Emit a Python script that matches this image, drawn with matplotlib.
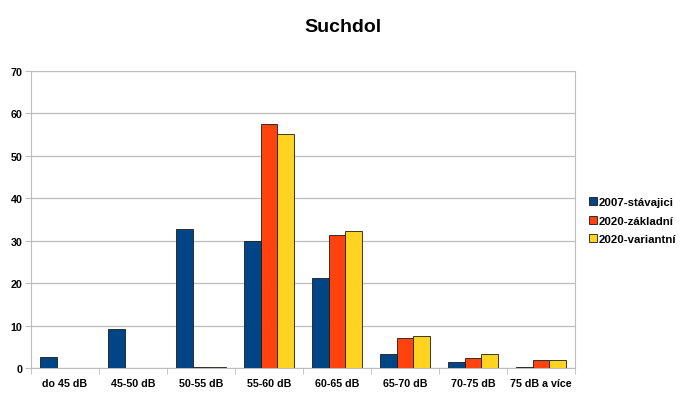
import matplotlib.pyplot as plt
import numpy as np

plt.rcParams['font.family'] = ['Liberation Sans', 'DejaVu Sans']

categories = ['do 45 dB', '45-50 dB', '50-55 dB', '55-60 dB', '60-65 dB',
              '65-70 dB', '70-75 dB', '75 dB a více']
s2007 = [2.6, 9.1, 32.7, 29.9, 21.1, 3.3, 1.5, 0.3]
s2020z = [0.0, 0.0, 0.3, 57.5, 31.3, 7.0, 2.4, 1.9]
s2020v = [0.0, 0.0, 0.2, 55.2, 32.4, 7.5, 3.3, 1.9]
names = ['2007-stávajici', '2020-základní', '2020-variantní']
colors = ['#004586', '#ff420e', '#ffd320']

fig = plt.figure(figsize=(6.82, 4.06), dpi=100)
ax = fig.add_axes([0.0455, 0.0911, 0.7975, 0.7316])

x = np.arange(len(categories))
w = 0.245
for i, (vals, nm, c) in enumerate(zip([s2007, s2020z, s2020v], names, colors)):
    ax.bar(x + (i - 1) * w, vals, w, color=c, edgecolor='#1a1a1a',
           linewidth=0.6, label=nm, zorder=3)

ax.set_xlim(-0.5, len(categories) - 0.5)
ax.set_ylim(0, 70)
ax.set_yticks(range(0, 71, 10))
ax.yaxis.grid(True, color='#bdbdbd', linewidth=0.9, zorder=0)
for s in ax.spines.values():
    s.set_color('#bdbdbd')
ax.set_xticks(x)
ax.set_xticklabels(categories, fontsize=7.7, fontweight='bold')
ax.set_xticks(np.arange(-0.5, len(categories), 1), minor=True)
ax.tick_params(axis='x', which='major', length=0, pad=7)
ax.tick_params(axis='x', which='minor', length=4, color='#bdbdbd')
ax.tick_params(axis='y', labelsize=7.7, length=4, color='#bdbdbd', pad=2)
for t in ax.get_yticklabels():
    t.set_fontweight('bold')

fig.text(0.503, 0.932, 'Suchdol', ha='center', va='center',
         fontsize=14, fontweight='bold')

leg = fig.legend(loc='center left', bbox_to_anchor=(0.848, 0.454), frameon=False,
                 prop={'size': 8.2, 'weight': 'bold'}, handlelength=0.7,
                 handleheight=0.7, handletextpad=0.2, labelspacing=0.75)

fig.savefig('out.png', dpi=100)
